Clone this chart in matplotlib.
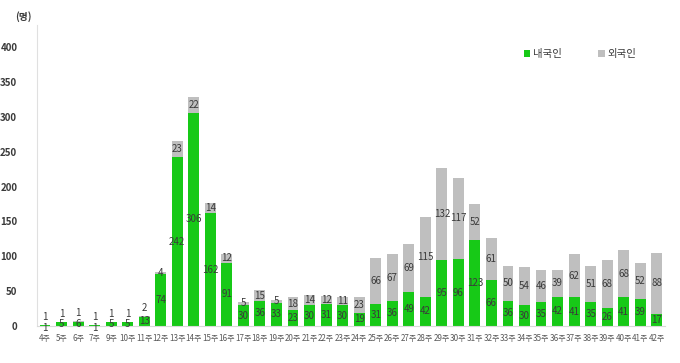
import matplotlib
matplotlib.use("Agg")
import matplotlib.pyplot as plt
import numpy as np

plt.rcParams["font.family"] = ["Noto Sans CJK KR", "DejaVu Sans"]

weeks = [4, 5, 6, 7] + list(range(9, 43))
week_labels = [f"{w}주" for w in weeks]
domestic = [1, 5, 6, 1, 5, 5, 13, 74, 242, 306, 162, 91, 30, 36, 33, 23, 30, 31, 30, 19,
            31, 36, 49, 42, 95, 96, 123, 66, 36, 30, 35, 42, 41, 35, 26, 41, 39, 17]
foreign = [1, 1, 1, 1, 1, 1, 2, 4, 23, 22, 14, 12, 5, 15, 5, 18, 14, 12, 11, 23,
           66, 67, 69, 115, 132, 117, 52, 61, 50, 54, 46, 39, 62, 51, 68, 68, 52, 88]

GREEN = "#17c917"
GRAY = "#bfbfbf"
TEXT = "#3a3a3a"

fig = plt.figure(figsize=(6.8, 3.63), dpi=100)
ax = fig.add_axes([0.054, 0.102, 0.924, 0.829])

x = np.arange(len(weeks))
dom = np.array(domestic)
frn = np.array(foreign)
ax.bar(x, dom, width=0.66, color=GREEN, label="내국인")
ax.bar(x, frn, width=0.66, bottom=dom, color=GRAY, label="외국인")

for xi, d, f in zip(x, dom, frn):
    # very small green segments: label sits a bit lower, like the original
    dy = d / 2 - 3 if d <= 2 else d / 2
    ax.text(xi, dy, str(d), ha="center", va="center", fontsize=7, color=TEXT, clip_on=False)
    if f <= 2:
        ax.text(xi, d + f + 4, str(f), ha="center", va="bottom", fontsize=7, color=TEXT)
    else:
        ax.text(xi, d + f / 2, str(f), ha="center", va="center", fontsize=7, color=TEXT)

ax.set_xlim(-0.5, len(weeks) - 0.5)
ax.set_ylim(0, 432)
ax.set_xticks(x)
ax.set_xticklabels(week_labels, fontsize=5.8, color="#595959")
ax.set_yticks(range(0, 401, 50))
ax.set_yticklabels([str(v) for v in range(0, 401, 50)], fontsize=7, color=TEXT, fontweight="bold")
ax.tick_params(length=0, pad=6)
ax.tick_params(axis="y", pad=14)
for side in ["top", "right"]:
    ax.spines[side].set_visible(False)
ax.spines["left"].set_color("#e0e0e0")
ax.spines["bottom"].set_color("#d9d9d9")

fig.text(0.022, 0.945, "(명)", fontsize=7, color=TEXT, fontweight="bold")

ax.legend(loc="upper left", bbox_to_anchor=(0.76, 0.95), ncol=2, frameon=False,
          fontsize=7.5, handlelength=0.6, handleheight=0.6, columnspacing=3.5,
          handletextpad=0.3, labelcolor=TEXT)

fig.savefig("out.png", dpi=100)
